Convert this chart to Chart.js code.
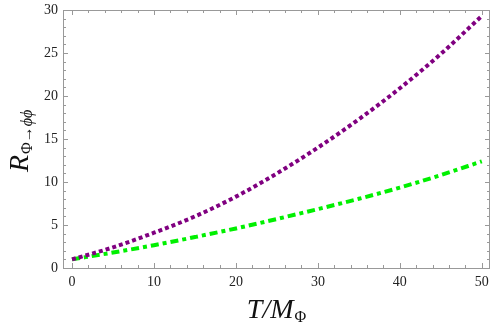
<!DOCTYPE html>
<html>
<head>
<meta charset="utf-8">
<script src="https://cdn.jsdelivr.net/npm/chart.js@4/dist/chart.umd.min.js"></script>
<style>
html,body{margin:0;padding:0;background:#fff;}
#wrap{width:491px;height:327px;}
</style>
</head>
<body>
<div id="wrap"><canvas id="c"></canvas></div>
<script>
const tValues = [0, 5, 10, 15, 20, 25, 30, 35, 40, 45, 50];
const rPurple = [1.0, 2.4, 4.1, 6.0, 8.3, 11.0, 14.0, 17.3, 20.9, 24.9, 29.3];
const rGreen  = [1.0, 1.8, 2.65, 3.6, 4.6, 5.7, 6.85, 8.05, 9.35, 10.8, 12.4];
const xTicks = [0, 10, 20, 30, 40, 50];
const yTicks = [0, 5, 10, 15, 20, 25, 30];

const SERIF = '"Liberation Serif", "DejaVu Serif", serif';

const framePlugin = {
  id: 'frame',
  afterDraw(chart) {
    const ctx = chart.ctx, a = chart.chartArea;
    const xs = chart.scales.x, ys = chart.scales.y;
    ctx.save();
    ctx.strokeStyle = '#999';
    ctx.lineWidth = 1;
    ctx.strokeRect(Math.round(a.left) + 0.5, Math.round(a.top) + 0.5,
                   Math.round(a.right - a.left) - 1, Math.round(a.bottom - a.top));
    ctx.beginPath();
    for (let v = 0; v <= 50; v += 2) {
      const px = Math.round(xs.getPixelForValue(v)) + 0.5;
      const len = (v % 10 === 0) ? 5 : 3;
      ctx.moveTo(px, a.bottom); ctx.lineTo(px, a.bottom - len);
      ctx.moveTo(px, a.top); ctx.lineTo(px, a.top + len);
    }
    for (let v = 0; v <= 30; v += 1) {
      const py = Math.round(ys.getPixelForValue(v)) + 0.5;
      const len = (v % 5 === 0) ? 5 : 3;
      ctx.moveTo(a.left, py); ctx.lineTo(a.left + len, py);
      ctx.moveTo(a.right, py); ctx.lineTo(a.right - len, py);
    }
    ctx.stroke();

    // tick labels
    ctx.fillStyle = '#222';
    ctx.font = '14px ' + SERIF;
    ctx.textAlign = 'center';
    ctx.textBaseline = 'top';
    xTicks.forEach(v => ctx.fillText(String(v), xs.getPixelForValue(v), a.bottom + 7));
    ctx.textAlign = 'right';
    ctx.textBaseline = 'middle';
    yTicks.forEach(v => ctx.fillText(String(v), a.left - 5, ys.getPixelForValue(v)));

    // X axis title: T/M_Φ
    ctx.fillStyle = '#111';
    ctx.textBaseline = 'alphabetic';
    ctx.textAlign = 'left';
    const big = 'italic 28px ' + SERIF;
    const sub = '16px ' + SERIF;
    ctx.font = big;
    const w1 = ctx.measureText('T/M').width;
    ctx.font = sub;
    const w2 = ctx.measureText('Φ').width;
    let x0 = 276 - (w1 + w2) / 2;
    const yb = 318;
    ctx.font = big;
    ctx.fillText('T/M', x0, yb);
    ctx.font = sub;
    ctx.fillText('Φ', x0 + w1 + 1, yb + 4);

    // Y axis title: R_{Φ→ϕϕ}
    ctx.save();
    ctx.translate(28, 172);
    ctx.rotate(-Math.PI / 2);
    ctx.font = big;
    ctx.fillText('R', 0, 0);
    const wr = ctx.measureText('R').width;
    ctx.font = sub;
    ctx.fillText('Φ', wr + 1, 4);
    const wphi = ctx.measureText('Φ').width;
    ctx.fillText('→', wr + 1 + wphi, 4);
    const wa = ctx.measureText('→').width;
    ctx.font = 'italic 16px ' + SERIF;
    ctx.fillText('ϕϕ', wr + 1 + wphi + wa, 4);
    ctx.restore();
    ctx.restore();
  }
};

new Chart(document.getElementById('c'), {
  type: 'scatter',
  data: {
    datasets: [
      {
        data: tValues.map((t, i) => ({x: t, y: rPurple[i]})),
        showLine: true,
        borderColor: 'rgb(128,0,128)',
        borderWidth: 4,
        borderDash: [4, 3],
        pointRadius: 0,
        cubicInterpolationMode: 'monotone',
        fill: false
      },
      {
        data: tValues.map((t, i) => ({x: t, y: rGreen[i]})),
        showLine: true,
        borderColor: 'rgb(0,240,0)',
        borderWidth: 4,
        borderDash: [8, 4, 4, 4],
        pointRadius: 0,
        cubicInterpolationMode: 'monotone',
        fill: false
      }
    ]
  },
  options: {
    responsive: true,
    maintainAspectRatio: false,
    animation: false,
    devicePixelRatio: 1,
    layout: {padding: {top: 10, right: 1, left: 0, bottom: 0}},
    plugins: {legend: {display: false}, tooltip: {enabled: false}},
    scales: {
      x: {
        type: 'linear',
        min: -1.1,
        max: 51,
        grid: {display: false, drawTicks: false},
        border: {display: false},
        afterBuildTicks(s) { s.ticks = xTicks.map(v => ({value: v})); },
        ticks: {display: false},
        afterFit(s) { s.height = 59; }
      },
      y: {
        type: 'linear',
        min: 0,
        max: 30,
        grid: {display: false, drawTicks: false},
        border: {display: false},
        afterBuildTicks(s) { s.ticks = yTicks.map(v => ({value: v})); },
        ticks: {display: false},
        afterFit(s) { s.width = 63; }
      }
    }
  },
  plugins: [framePlugin]
});
</script>
</body>
</html>
